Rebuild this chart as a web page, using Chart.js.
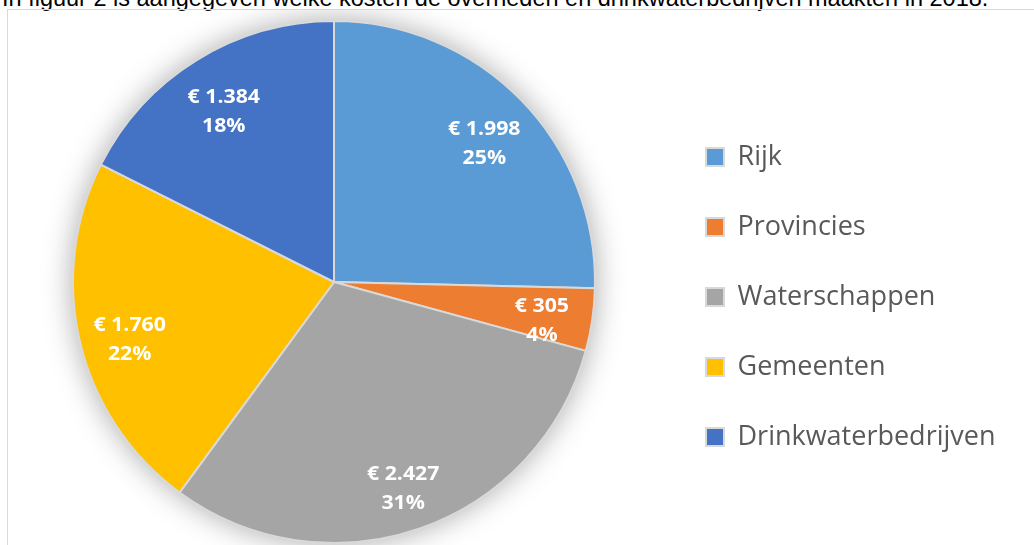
<!DOCTYPE html>
<html>
<head>
<meta charset="utf-8">
<script src="https://cdn.jsdelivr.net/npm/chart.js@4/dist/chart.umd.min.js"></script>
<style>
  html, body { margin: 0; padding: 0; background: #fff; overflow: hidden; }
  body { width: 1034px; height: 545px; position: relative; }
  #intro { position: absolute; left: 2px; top: -14px; font-family: "Liberation Sans", Arial, sans-serif; font-size: 23.5px; line-height: 24px; color: #000; white-space: nowrap; }
  #frame { position: absolute; left: 7px; top: 9px; width: 1040px; height: 560px; border: 1px solid #d9d9d9; box-sizing: border-box; }
  #wrap { position: absolute; left: 0; top: 10px; width: 1034px; height: 535px; }
</style>
</head>
<body>
<div id="intro">In figuur 2 is aangegeven welke kosten de overheden en drinkwaterbedrijven maakten in 2018.</div>
<div id="frame"></div>
<div id="wrap"><canvas id="c"></canvas></div>
<script>
const categories = ["Rijk", "Provincies", "Waterschappen", "Gemeenten", "Drinkwaterbedrijven"];
const costs = [1998, 305, 2427, 1760, 1384];
const colors = ["#5B9BD5", "#ED7D31", "#A5A5A5", "#FFC000", "#4472C4"];

function fmtEuro(v) {
  return "€ " + String(v).replace(/\B(?=(\d{3})+(?!\d))/g, ".");
}
const total = costs.reduce((a, b) => a + b, 0);

const legendFontFamily = "'Open Sans', Lato, sans-serif";
const legendFontSize = 27;
const legendBox = 18;
const legendPad = 43;
const legendLeft = 663;   // desired left edge of legend block
const canvasW = 1034;

// measure longest legend label so the legend block starts where desired
const mctx = document.createElement("canvas").getContext("2d");
mctx.font = legendFontSize + "px " + legendFontFamily;
const maxTextW = Math.max(...categories.map(t => mctx.measureText(t).width));
const legendW = legendPad + legendBox + legendFontSize / 2 + maxTextW + 10;
const padRight = Math.max(0, canvasW - legendLeft - legendW);

const shadowPlugin = {
  id: "pieShadow",
  beforeDatasetsDraw(chart) {
    const meta = chart.getDatasetMeta(0);
    const arc = meta.data[0];
    if (!arc) return;
    const {x, y, outerRadius} = arc.getProps(["x", "y", "outerRadius"], true);
    const ctx = chart.ctx;
    ctx.save();
    ctx.beginPath();
    ctx.arc(x, y, outerRadius, 0, Math.PI * 2);
    ctx.shadowColor = "rgba(0,0,0,0.35)";
    ctx.shadowBlur = 30;
    ctx.fillStyle = "#ffffff";
    ctx.fill();
    ctx.restore();
  }
};

const labelPlugin = {
  id: "sliceLabels",
  afterDatasetsDraw(chart) {
    const ctx = chart.ctx;
    const meta = chart.getDatasetMeta(0);
    ctx.save();
    ctx.fillStyle = "#ffffff";
    ctx.font = "bold 19px 'Open Sans', Lato, sans-serif";
    ctx.textAlign = "center";
    ctx.textBaseline = "middle";
    meta.data.forEach((arc, i) => {
      const p = arc.getProps(["x", "y", "startAngle", "endAngle", "outerRadius"], true);
      const mid = (p.startAngle + p.endAngle) / 2;
      const r = p.outerRadius * 0.805;
      const cx = p.x + Math.cos(mid) * r;
      const cy = p.y + Math.sin(mid) * r + 9;
      const pct = Math.round(costs[i] / total * 100) + "%";
      ctx.save();
      ctx.translate(cx, cy);
      ctx.scale(1.12, 1);
      ctx.fillText(fmtEuro(costs[i]), 0, -14.5);
      ctx.fillText(pct, 0, 14.5);
      ctx.restore();
    });
    ctx.restore();
  }
};

new Chart(document.getElementById("c"), {
  type: "pie",
  data: {
    labels: categories,
    datasets: [{
      data: costs,
      backgroundColor: colors,
      borderColor: "#d9d9d9",
      borderWidth: 2,
      hoverOffset: 0
    }]
  },
  options: {
    responsive: true,
    maintainAspectRatio: false,
    animation: false,
    layout: { padding: { top: 10, bottom: 1, left: 5, right: padRight } },
    plugins: {
      tooltip: { enabled: false },
      legend: {
        position: "right",
        title: { display: true, text: " ", font: { size: 10 }, padding: { top: 9, bottom: 9 } },
        labels: {
          boxWidth: legendBox,
          boxHeight: legendBox,
          padding: legendPad,
          color: "#595959",
          font: { family: legendFontFamily, size: legendFontSize }
        }
      }
    }
  },
  plugins: [shadowPlugin, labelPlugin]
});
</script>
</body>
</html>
